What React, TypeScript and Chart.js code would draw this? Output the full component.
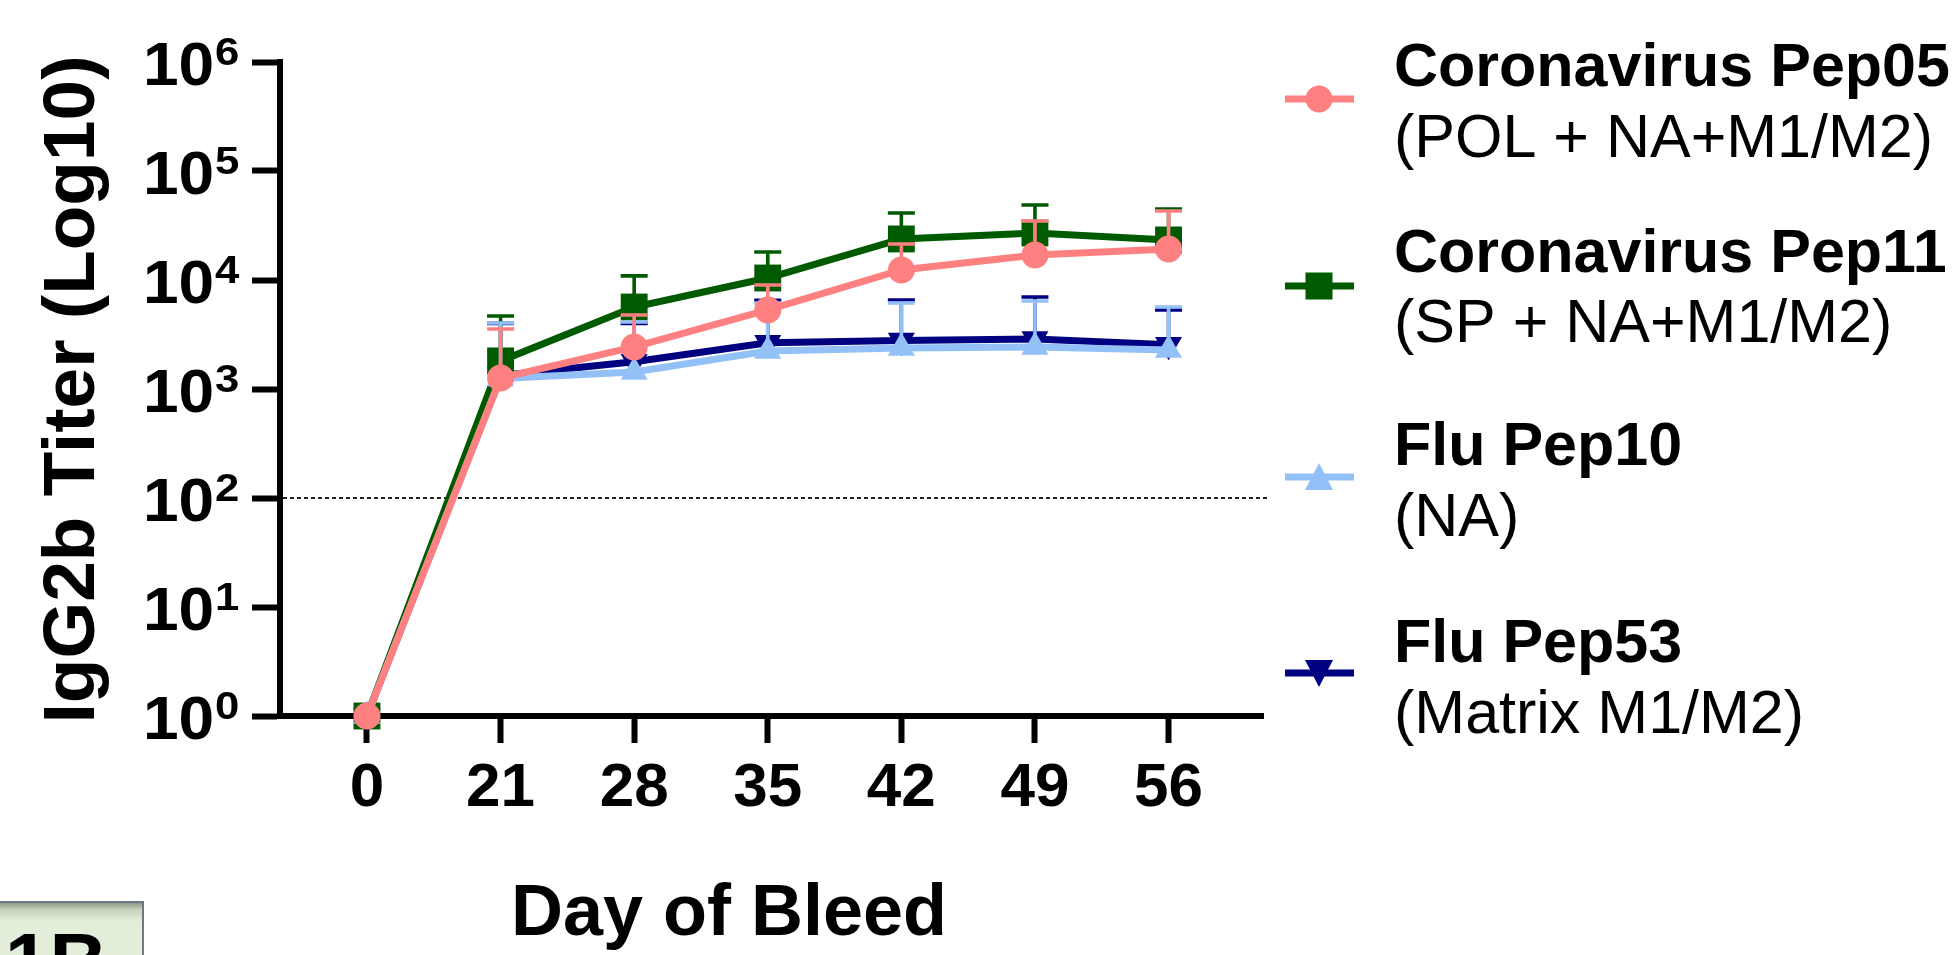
import React, { useEffect, useRef } from 'react';
import { Chart, registerables } from 'chart.js';

Chart.register(...registerables);

const FONT = '"Liberation Sans", Arial, Helvetica, sans-serif';

// ---- data ----
const DAYS = ['0', '21', '28', '35', '42', '49', '56'];
const Y_EXPONENTS = [0, 1, 2, 3, 4, 5, 6];
const DETECTION_LIMIT = 100;

const PEP05_MEAN = [1, 1260, 2430, 5310, 12350, 16950, 19250];
const PEP05_UPPER = [null, 3550, 4770, 9000, 21400, 34800, 42900];
const PEP11_MEAN = [1, 1810, 5650, 10430, 23800, 27000, 23300];
const PEP11_UPPER = [null, 4680, 10900, 18070, 41200, 48800, 44800];
const PEP10_MEAN = [1, 1250, 1430, 2230, 2380, 2430, 2280];
const PEP10_UPPER = [null, 4030, 4120, 6150, 6150, 6420, 5650];
const PEP53_MEAN = [1, 1330, 1780, 2650, 2780, 2880, 2550];
const PEP53_UPPER = [null, 4000, 4000, 6500, 6560, 6980, 5310];

const SERIES_LABELS = ['Coronavirus Pep05', 'Coronavirus Pep11', 'Flu Pep10', 'Flu Pep53'];
const SERIES_SUBLABELS = ['(POL + NA+M1/M2)', '(SP + NA+M1/M2)', '(NA)', '(Matrix M1/M2)'];
const SERIES_COLORS = ['#FF8080', '#005A00', '#94C0F8', '#000080'];
const SERIES_MARKERS = ['circle', 'square', 'triangleUp', 'triangleDown'];
const SERIES_MEANS = [PEP05_MEAN, PEP11_MEAN, PEP10_MEAN, PEP53_MEAN];
const SERIES_UPPERS = [PEP05_UPPER, PEP11_UPPER, PEP10_UPPER, PEP53_UPPER];
const SERIES_ORDER = [0, 2, 1, 3];

const Y_TITLE = 'IgG2b Titer (Log10)';
const X_TITLE = 'Day of Bleed';

// ---- marker helpers ----
function pointStyleFor(m: string) {
  if (m === 'circle') return { pointStyle: 'circle', pointRadius: 13.5, pointRotation: 0 };
  if (m === 'square') return { pointStyle: 'rect', pointRadius: 19, pointRotation: 0 };
  if (m === 'triangleUp') return { pointStyle: 'triangle', pointRadius: 15.6, pointRotation: 0 };
  return { pointStyle: 'triangle', pointRadius: 15.6, pointRotation: 180 };
}

function drawLegendMarker(ctx: CanvasRenderingContext2D, m: string, x: number, y: number, color: string) {
  ctx.fillStyle = color;
  ctx.beginPath();
  if (m === 'circle') {
    ctx.arc(x, y, 13.5, 0, Math.PI * 2);
  } else if (m === 'square') {
    ctx.rect(x - 13.5, y - 13.5, 27, 27);
  } else if (m === 'triangleUp') {
    ctx.moveTo(x, y - 14);
    ctx.lineTo(x + 14, y + 13);
    ctx.lineTo(x - 14, y + 13);
    ctx.closePath();
  } else {
    ctx.moveTo(x, y + 14);
    ctx.lineTo(x + 14, y - 13);
    ctx.lineTo(x - 14, y - 13);
    ctx.closePath();
  }
  ctx.fill();
}

// ---- plugins ----
const errorBarPlugin = {
  id: 'upperErrorBars',
  beforeDatasetDraw(chart: any, args: any) {
    const i = args.index;
    const upper = SERIES_UPPERS[i];
    const mean = SERIES_MEANS[i];
    const { ctx } = chart;
    const xs = chart.scales.x;
    const ys = chart.scales.y;
    ctx.save();
    ctx.strokeStyle = SERIES_COLORS[i];
    ctx.lineWidth = 3.6;
    ctx.lineCap = 'butt';
    upper.forEach((u: number | null, k: number) => {
      if (u == null) return;
      const px = xs.getPixelForValue(k);
      const p0 = ys.getPixelForValue(mean[k]);
      const p1 = ys.getPixelForValue(u);
      ctx.beginPath();
      ctx.moveTo(px, p0);
      ctx.lineTo(px, p1);
      ctx.moveTo(px - 13.5, p1);
      ctx.lineTo(px + 13.5, p1);
      ctx.stroke();
    });
    ctx.restore();
  },
};

const LEGEND_ROWS = [
  { bold: 86, regular: 157, marker: 99 },
  { bold: 272, regular: 342, marker: 286 },
  { bold: 465, regular: 536, marker: 477 },
  { bold: 662, regular: 733, marker: 673 },
];

const textPlugin = {
  id: 'figureText',
  beforeDatasetsDraw(chart: any) {
    const { ctx, chartArea } = chart;
    const py = chart.scales.y.getPixelForValue(DETECTION_LIMIT);
    ctx.save();
    ctx.strokeStyle = '#222';
    ctx.lineWidth = 2;
    ctx.setLineDash([4, 3]);
    ctx.beginPath();
    ctx.moveTo(chartArea.left + 3, py);
    ctx.lineTo(chartArea.right + 6, py);
    ctx.stroke();
    ctx.restore();
  },
  afterDraw(chart: any) {
    const { ctx } = chart;
    const ys = chart.scales.y;
    ctx.save();
    ctx.fillStyle = '#000';
    ctx.textBaseline = 'alphabetic';
    ctx.textAlign = 'left';
    // y tick labels 10^n
    Y_EXPONENTS.forEach((e) => {
      const py = ys.getPixelForValue(Math.pow(10, e));
      ctx.save();
      ctx.translate(143, py + 23);
      ctx.scale(1.05, 1);
      ctx.font = `bold 61px ${FONT}`;
      ctx.fillText('10', 0, 0);
      ctx.restore();
      ctx.save();
      ctx.translate(215, py + 3);
      ctx.scale(1.15, 1);
      ctx.font = `bold 38px ${FONT}`;
      ctx.fillText(String(e), 0, 0);
      ctx.restore();
    });
    // y title
    ctx.save();
    ctx.translate(94, 389.5);
    ctx.rotate(-Math.PI / 2);
    ctx.textAlign = 'center';
    ctx.font = `bold 73px ${FONT}`;
    ctx.fillText(Y_TITLE, 0, 0);
    ctx.restore();
    // x title
    ctx.save();
    ctx.textAlign = 'center';
    ctx.font = `bold 72px ${FONT}`;
    ctx.fillText(X_TITLE, 729, 935);
    ctx.restore();
    // legend
    LEGEND_ROWS.forEach((row, i) => {
      const color = SERIES_COLORS[i];
      ctx.save();
      ctx.strokeStyle = color;
      ctx.lineWidth = 7;
      ctx.beginPath();
      ctx.moveTo(1285, row.marker);
      ctx.lineTo(1354, row.marker);
      ctx.stroke();
      drawLegendMarker(ctx, SERIES_MARKERS[i], 1319, row.marker, color);
      ctx.restore();
      ctx.fillStyle = '#000';
      ctx.textAlign = 'left';
      ctx.font = `bold 61px ${FONT}`;
      ctx.fillText(SERIES_LABELS[i], 1394, row.bold);
      ctx.font = `61px ${FONT}`;
      ctx.fillText(SERIES_SUBLABELS[i], 1394, row.regular);
    });
    ctx.restore();
  },
};

export default function App() {
  const canvasRef = useRef<HTMLCanvasElement | null>(null);

  useEffect(() => {
    document.body.style.margin = '0';
    document.body.style.overflow = 'hidden';
    const canvas = canvasRef.current;
    if (!canvas) return;
    Chart.defaults.font.family = FONT;
    Chart.defaults.color = '#000';

    const datasets = SERIES_LABELS.map((label, i) => ({
      label,
      data: SERIES_MEANS[i].map((v, k) => ({ x: k, y: v })),
      borderColor: SERIES_COLORS[i],
      backgroundColor: SERIES_COLORS[i],
      pointBackgroundColor: SERIES_COLORS[i],
      pointBorderWidth: 0,
      borderWidth: 7,
      tension: 0,
      fill: false,
      clip: false as any,
      order: SERIES_ORDER[i],
      ...pointStyleFor(SERIES_MARKERS[i]),
    }));

    const chart = new Chart(canvas, {
      type: 'line',
      data: { datasets } as any,
      options: {
        responsive: false,
        animation: false,
        devicePixelRatio: 1,
        events: [],
        layout: { padding: { left: 0, top: 62, right: 697, bottom: 0 } },
        plugins: { legend: { display: false }, tooltip: { enabled: false } },
        scales: {
          x: {
            type: 'linear',
            min: -0.651,
            max: 6.707,
            afterBuildTicks: (s: any) => {
              s.ticks = DAYS.map((_, i) => ({ value: i }));
            },
            afterFit: (s: any) => {
              s.height = 239;
            },
            ticks: {
              callback: (v: any) => DAYS[Math.round(Number(v))] ?? '',
              font: { family: FONT, size: 62, weight: 'bold' },
              color: '#000',
              padding: 9,
              maxRotation: 0,
              minRotation: 0,
              autoSkip: false,
            },
            grid: { drawOnChartArea: false, drawTicks: true, tickLength: 27, tickWidth: 6, tickColor: '#000', color: '#000' },
            border: { display: true, color: '#000', width: 6 },
          },
          y: {
            type: 'logarithmic',
            min: 1,
            max: 1e6,
            afterBuildTicks: (s: any) => {
              s.ticks = Y_EXPONENTS.map((e) => ({ value: Math.pow(10, e), major: true }));
            },
            afterFit: (s: any) => {
              s.width = 280;
            },
            ticks: { display: false },
            grid: { drawOnChartArea: false, drawTicks: true, tickLength: 28, tickWidth: 6, tickColor: '#000', color: '#000' },
            border: { display: true, color: '#000', width: 6 },
          },
        },
      } as any,
      plugins: [errorBarPlugin, textPlugin] as any,
    });

    return () => {
      chart.destroy();
    };
  }, []);

  return (
    <div
      style={{
        position: 'relative',
        width: 1960,
        height: 955,
        overflow: 'hidden',
        background: '#fff',
        fontFamily: FONT,
      }}
    >
      <canvas
        ref={canvasRef}
        width={1960}
        height={955}
        style={{ display: 'block', position: 'absolute', left: 0, top: 0, width: 1960, height: 955 }}
      />
      <div
        style={{
          position: 'absolute',
          left: -2,
          top: 901,
          width: 146,
          height: 90,
          boxSizing: 'border-box',
          border: '2px solid #6a7888',
          background: 'linear-gradient(to bottom, #8d9a86 0px, #c6d3bd 7px, #e2eed9 18px, #e2eed9 100%)',
          overflow: 'hidden',
        }}
      >
        <span
          style={{
            position: 'absolute',
            left: 5,
            top: 19,
            font: `bold 80px ${FONT}`,
            lineHeight: 1,
            color: '#000',
          }}
        >
          1B
        </span>
      </div>
    </div>
  );
}
